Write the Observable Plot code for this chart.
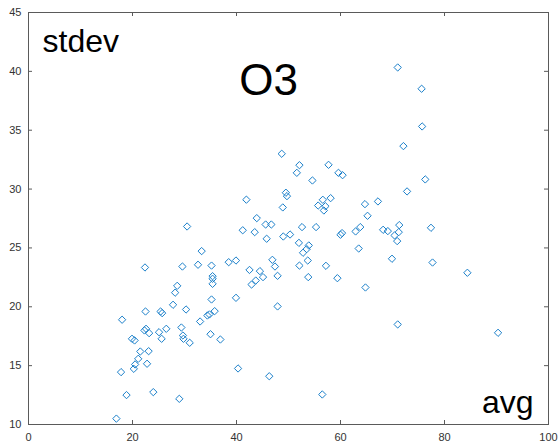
<!DOCTYPE html>
<html>
<head>
<meta charset="utf-8">
<script src="https://cdn.jsdelivr.net/npm/d3@7"></script>
<script src="https://cdn.jsdelivr.net/npm/@observablehq/plot@0.6"></script>
<style>
  html, body { margin: 0; padding: 0; background: #fff; }
  #chart { width: 559px; height: 446px; }
</style>
</head>
<body>
<div id="chart"></div>
<script>
const avg = [16.9,18.0,17.8,18.85,19.9,20.4,20.25,20.5,21.1,21.5,22.4,22.5,22.3,22.6,23.2,22.8,23.1,24.0,25.1,25.6,25.4,25.7,26.5,27.8,28.2,28.6,29.0,29.6,29.4,29.7,29.8,30.3,30.5,31.0,32.6,33.0,33.3,34.4,34.8,35.0,35.2,35.2,35.4,35.4,35.4,35.8,36.9,38.5,39.9,39.9,40.3,41.2,42.5,42.9,43.5,43.7,44.5,45.1,45.8,45.6,46.7,46.3,46.9,47.4,47.9,47.9,49.0,50.3,52.6,55.3,52.0,52.8,53.5,53.9,53.7,52.1,53.8,57.2,56.5,59.4,60.0,60.3,62.9,63.8,63.5,64.8,68.2,69.1,69.9,70.4,70.9,71.2,71.3,71.0,77.4,77.7,84.4,90.3,71.0,75.6,75.7,72.1,48.7,52.1,51.6,57.7,59.6,60.4,54.6,76.3,72.8,49.5,49.7,48.9,55.7,56.6,57.1,56.8,58.1,64.7,67.2,65.2,41.9,43.9];
const stdev = [10.5,18.9,14.45,12.5,17.28,17.14,14.73,15.1,15.58,16.2,23.34,19.6,17.99,18.13,17.76,15.16,16.23,12.75,17.84,17.28,19.6,19.46,18.13,20.17,21.2,21.78,12.18,23.42,18.24,17.56,17.28,19.77,26.82,16.94,23.57,18.75,24.73,19.26,19.35,17.67,23.5,20.62,22.6,22.38,21.95,19.63,17.22,23.79,23.93,20.76,14.76,26.5,23.13,21.89,26.34,22.23,23.03,22.52,25.78,26.99,26.99,14.1,23.99,23.42,22.63,20.03,25.97,26.14,26.77,26.77,25.43,24.59,24.9,25.21,23.93,23.5,22.52,23.48,12.55,22.43,26.12,26.26,26.4,26.77,24.95,21.64,26.54,26.43,24.08,26.06,25.58,26.34,26.94,18.5,26.71,23.76,22.89,17.79,40.33,38.52,35.32,33.65,33.0,32.03,31.38,32.06,31.38,31.18,30.73,30.82,29.8,29.69,29.4,28.44,28.6,29.09,28.54,28.18,29.23,28.72,28.95,27.73,29.1,27.53];
const xTicks = [0, 20, 40, 60, 80, 100];
const yTicks = [10, 15, 20, 25, 30, 35, 40, 45];
const titleText = "O3";
const yLabel = "stdev";
const xLabel = "avg";

const points = avg.map((a, i) => ({avg: a, stdev: stdev[i]}));
const axisColor = "#5a5a5a";
const font = "'Liberation Sans', Arial, Helvetica, sans-serif";

const chart = Plot.plot({
  width: 559,
  height: 446,
  marginLeft: 28,
  marginRight: 11,
  marginTop: 12,
  marginBottom: 22,
  style: {fontFamily: font, fontSize: "11px", color: "#262626", background: "#fff"},
  x: {domain: [0, 100]},
  y: {domain: [10, 45]},
  marks: [
    Plot.axisX(xTicks, {label: null, tickSize: 0, tickPadding: 9, fontSize: 11, fill: "#333"}),
    Plot.axisY(yTicks, {label: null, tickSize: 0, tickPadding: 7, fontSize: 11, fill: "#333"}),
    Plot.tickX(xTicks, {x: d => d, insetTop: 408, stroke: axisColor}),
    Plot.tickX(xTicks, {x: d => d, insetBottom: 408, stroke: axisColor}),
    Plot.tickY(yTicks, {y: d => d, insetRight: 516, stroke: axisColor}),
    Plot.tickY(yTicks, {y: d => d, insetLeft: 516, stroke: axisColor}),
    Plot.frame({stroke: axisColor}),
    Plot.dot(points, {x: "avg", y: "stdev", symbol: "diamond2", r: 3.3, stroke: "#1a7fca", fill: "none", strokeWidth: 1}),
    Plot.text([yLabel], {frameAnchor: "top-left", dx: 14, dy: 39, textAnchor: "start", lineAnchor: "bottom", fontSize: 32, fill: "#000"}),
    Plot.text([titleText], {frameAnchor: "top", dx: -20, dy: 82, textAnchor: "middle", lineAnchor: "bottom", fontSize: 44, fill: "#000"}),
    Plot.text([xLabel], {frameAnchor: "bottom-right", dx: -15, dy: -12, textAnchor: "end", lineAnchor: "bottom", fontSize: 32, fill: "#000"})
  ]
});
document.getElementById("chart").appendChild(chart);
</script>
</body>
</html>
